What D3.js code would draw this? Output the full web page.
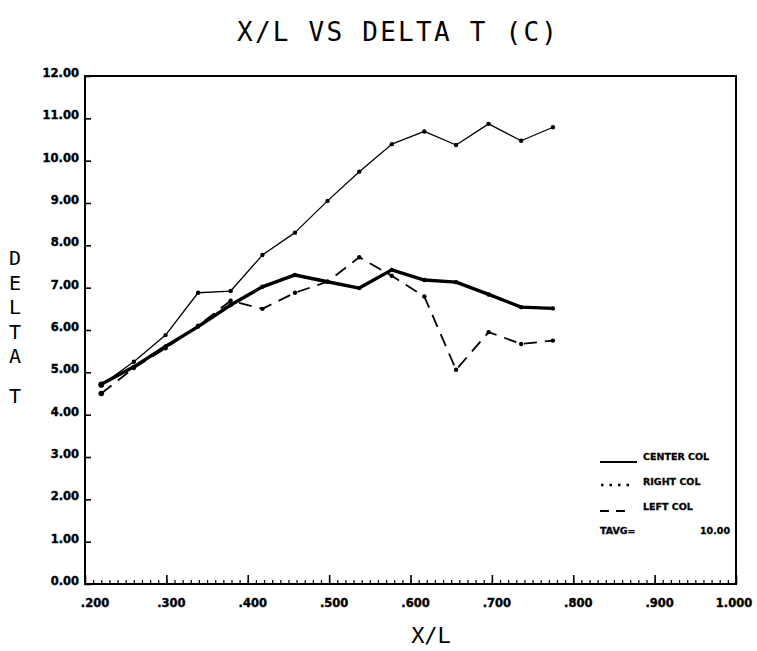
<!DOCTYPE html>
<html><head><meta charset="utf-8">
<script src="https://cdn.jsdelivr.net/npm/d3@7/dist/d3.min.js"></script>
<style>body{margin:0;background:#fff}svg{display:block}</style>
</head><body>
<script>
const xValues = [0.220,0.260,0.299,0.339,0.379,0.418,0.458,0.498,0.537,0.577,0.617,0.656,0.696,0.736,0.775];
const centerCol = [4.70,5.25,5.88,6.88,6.92,7.77,8.30,9.05,9.74,10.39,10.69,10.37,10.87,10.47,10.79];
const rightCol  = [4.72,5.13,5.61,6.08,6.59,7.02,7.30,7.14,6.99,7.42,7.18,7.13,6.84,6.54,6.51];
const leftCol   = [4.50,5.10,5.57,6.10,6.69,6.50,6.88,7.14,7.72,7.28,6.79,5.06,5.95,5.67,5.75];
const yTicks = [0,1,2,3,4,5,6,7,8,9,10,11,12];
const yTickLabels = ["0.00","1.00","2.00","3.00","4.00","5.00","6.00","7.00","8.00","9.00","10.00","11.00","12.00"];
const xTicks = [0.2,0.3,0.4,0.5,0.6,0.7,0.8,0.9,1.0];
const xTickLabels = [".200",".300",".400",".500",".600",".700",".800",".900","1.000"];
const legendNames = ["CENTER COL","RIGHT COL","LEFT COL"];
const tavgLabel = "TAVG=";
const tavgValue = "10.00";
const title = "X/L VS DELTA T (C)";
const yTitle = ["D","E","L","T","A","T"];
const xTitle = "X/L";

const W = 757, H = 651;
const svg = d3.select("body").append("svg").attr("width",W).attr("height",H);
const x = d3.scaleLinear().domain([0.2,1.0]).range([85,736]);
const y = d3.scaleLinear().domain([0,12]).range([584,76]);
const ink = "#000";
const tickFont = "'DejaVu Sans', sans-serif";

// title
svg.append("text").attr("x",237).attr("y",41).attr("textLength",320).attr("lengthAdjust","spacing")
  .attr("font-family","'DejaVu Sans Mono', monospace").attr("font-size",26).attr("fill",ink).text(title);

// frame
svg.append("path").attr("d",`M${x(0.2)},${y(0)}V${y(12)}H${x(1.0)}V${y(0)}Z`)
  .attr("fill","none").attr("stroke",ink).attr("stroke-width",2);

// y axis ticks (inside, pointing right)
const yAxis = d3.axisRight(y).tickValues(yTicks).tickSize(6).tickFormat("");
const gy = svg.append("g").attr("transform",`translate(${x(0.2)},0)`).call(yAxis);
gy.select(".domain").remove();
gy.selectAll("line").attr("stroke",ink).attr("stroke-width",1.6);
svg.append("g").selectAll("text").data(yTicks).join("text")
  .attr("x",79).attr("y",d=>y(d)+1).attr("text-anchor","end")
  .attr("font-family",tickFont).attr("font-weight","bold").attr("font-size",11.5)
  .attr("fill",ink).attr("stroke",ink).attr("stroke-width",0.4)
  .text((d,i)=>yTickLabels[i]);

// x axis: minor ticks each 0.01, major each 0.1 (pointing up)
const minor = d3.range(21,100).map(i=>i/100);
const xMinor = d3.axisTop(x).tickValues(minor).tickSize(4).tickFormat("");
const gxm = svg.append("g").attr("transform",`translate(0,${y(0)})`).call(xMinor);
gxm.select(".domain").remove();
gxm.selectAll("line").attr("stroke",ink).attr("stroke-width",1.2);
const xMajor = d3.axisTop(x).tickValues(xTicks).tickSize(9).tickFormat("");
const gxM = svg.append("g").attr("transform",`translate(0,${y(0)})`).call(xMajor);
gxM.select(".domain").remove();
gxM.selectAll("line").attr("stroke",ink).attr("stroke-width",1.6);
svg.append("g").selectAll("text").data(xTicks).join("text")
  .attr("x",(d,i)=>x(d)+(i===0?10:(i===xTicks.length-1?-2:5))).attr("y",607).attr("text-anchor","middle")
  .attr("font-family",tickFont).attr("font-weight","bold").attr("font-size",11.5)
  .attr("fill",ink).attr("stroke",ink).attr("stroke-width",0.4)
  .text((d,i)=>xTickLabels[i]);

// axis titles
svg.append("g").selectAll("text").data(yTitle).join("text")
  .attr("x",15).attr("y",(d,i)=> i<5 ? 265+i*24.5 : 403).attr("text-anchor","middle")
  .attr("font-family","'DejaVu Sans Mono', monospace").attr("font-size",20).attr("fill",ink).text(d=>d);
svg.append("text").attr("x",431).attr("y",643).attr("text-anchor","middle")
  .attr("font-family","'DejaVu Sans Mono', monospace").attr("font-size",22).attr("fill",ink).text(xTitle);

// series
const line = d3.line().x(d=>x(d[0])).y(d=>y(d[1]));
function series(vals, width, dash){
  const pts = xValues.map((v,i)=>[v,vals[i]]);
  svg.append("path").datum(pts).attr("d",line).attr("fill","none").attr("stroke",ink)
    .attr("stroke-width",width).attr("stroke-linejoin","round").attr("stroke-dasharray",dash||null);
  svg.append("g").selectAll("circle").data(pts).join("circle")
    .attr("cx",d=>x(d[0])).attr("cy",d=>y(d[1])).attr("r",(d,i)=> i===0?2.8:2.2).attr("fill",ink);
}
series(leftCol,1.8,"13,8");
series(rightCol,3.4);
series(centerCol,1.3);

// legend
const lg = svg.append("g").attr("font-family",tickFont).attr("font-weight","bold").attr("font-size",9.5)
  .attr("fill",ink).attr("stroke",ink).attr("stroke-width",0.3);
lg.append("line").attr("x1",600).attr("x2",637).attr("y1",462).attr("y2",462).attr("stroke",ink).attr("stroke-width",1.8);
lg.append("line").attr("x1",601).attr("x2",632).attr("y1",485).attr("y2",485).attr("stroke",ink).attr("stroke-width",2.5).attr("stroke-dasharray","2.5,6");
lg.append("line").attr("x1",600).attr("x2",627).attr("y1",511).attr("y2",511).attr("stroke",ink).attr("stroke-width",1.8).attr("stroke-dasharray","9,7");
lg.selectAll("text.n").data(legendNames).join("text").attr("class","n")
  .attr("x",643).attr("y",(d,i)=>460+i*25).text(d=>d);
lg.append("text").attr("x",600).attr("y",534).text(tavgLabel);
lg.append("text").attr("x",730).attr("y",534).attr("text-anchor","end").text(tavgValue);
</script>
</body></html>
